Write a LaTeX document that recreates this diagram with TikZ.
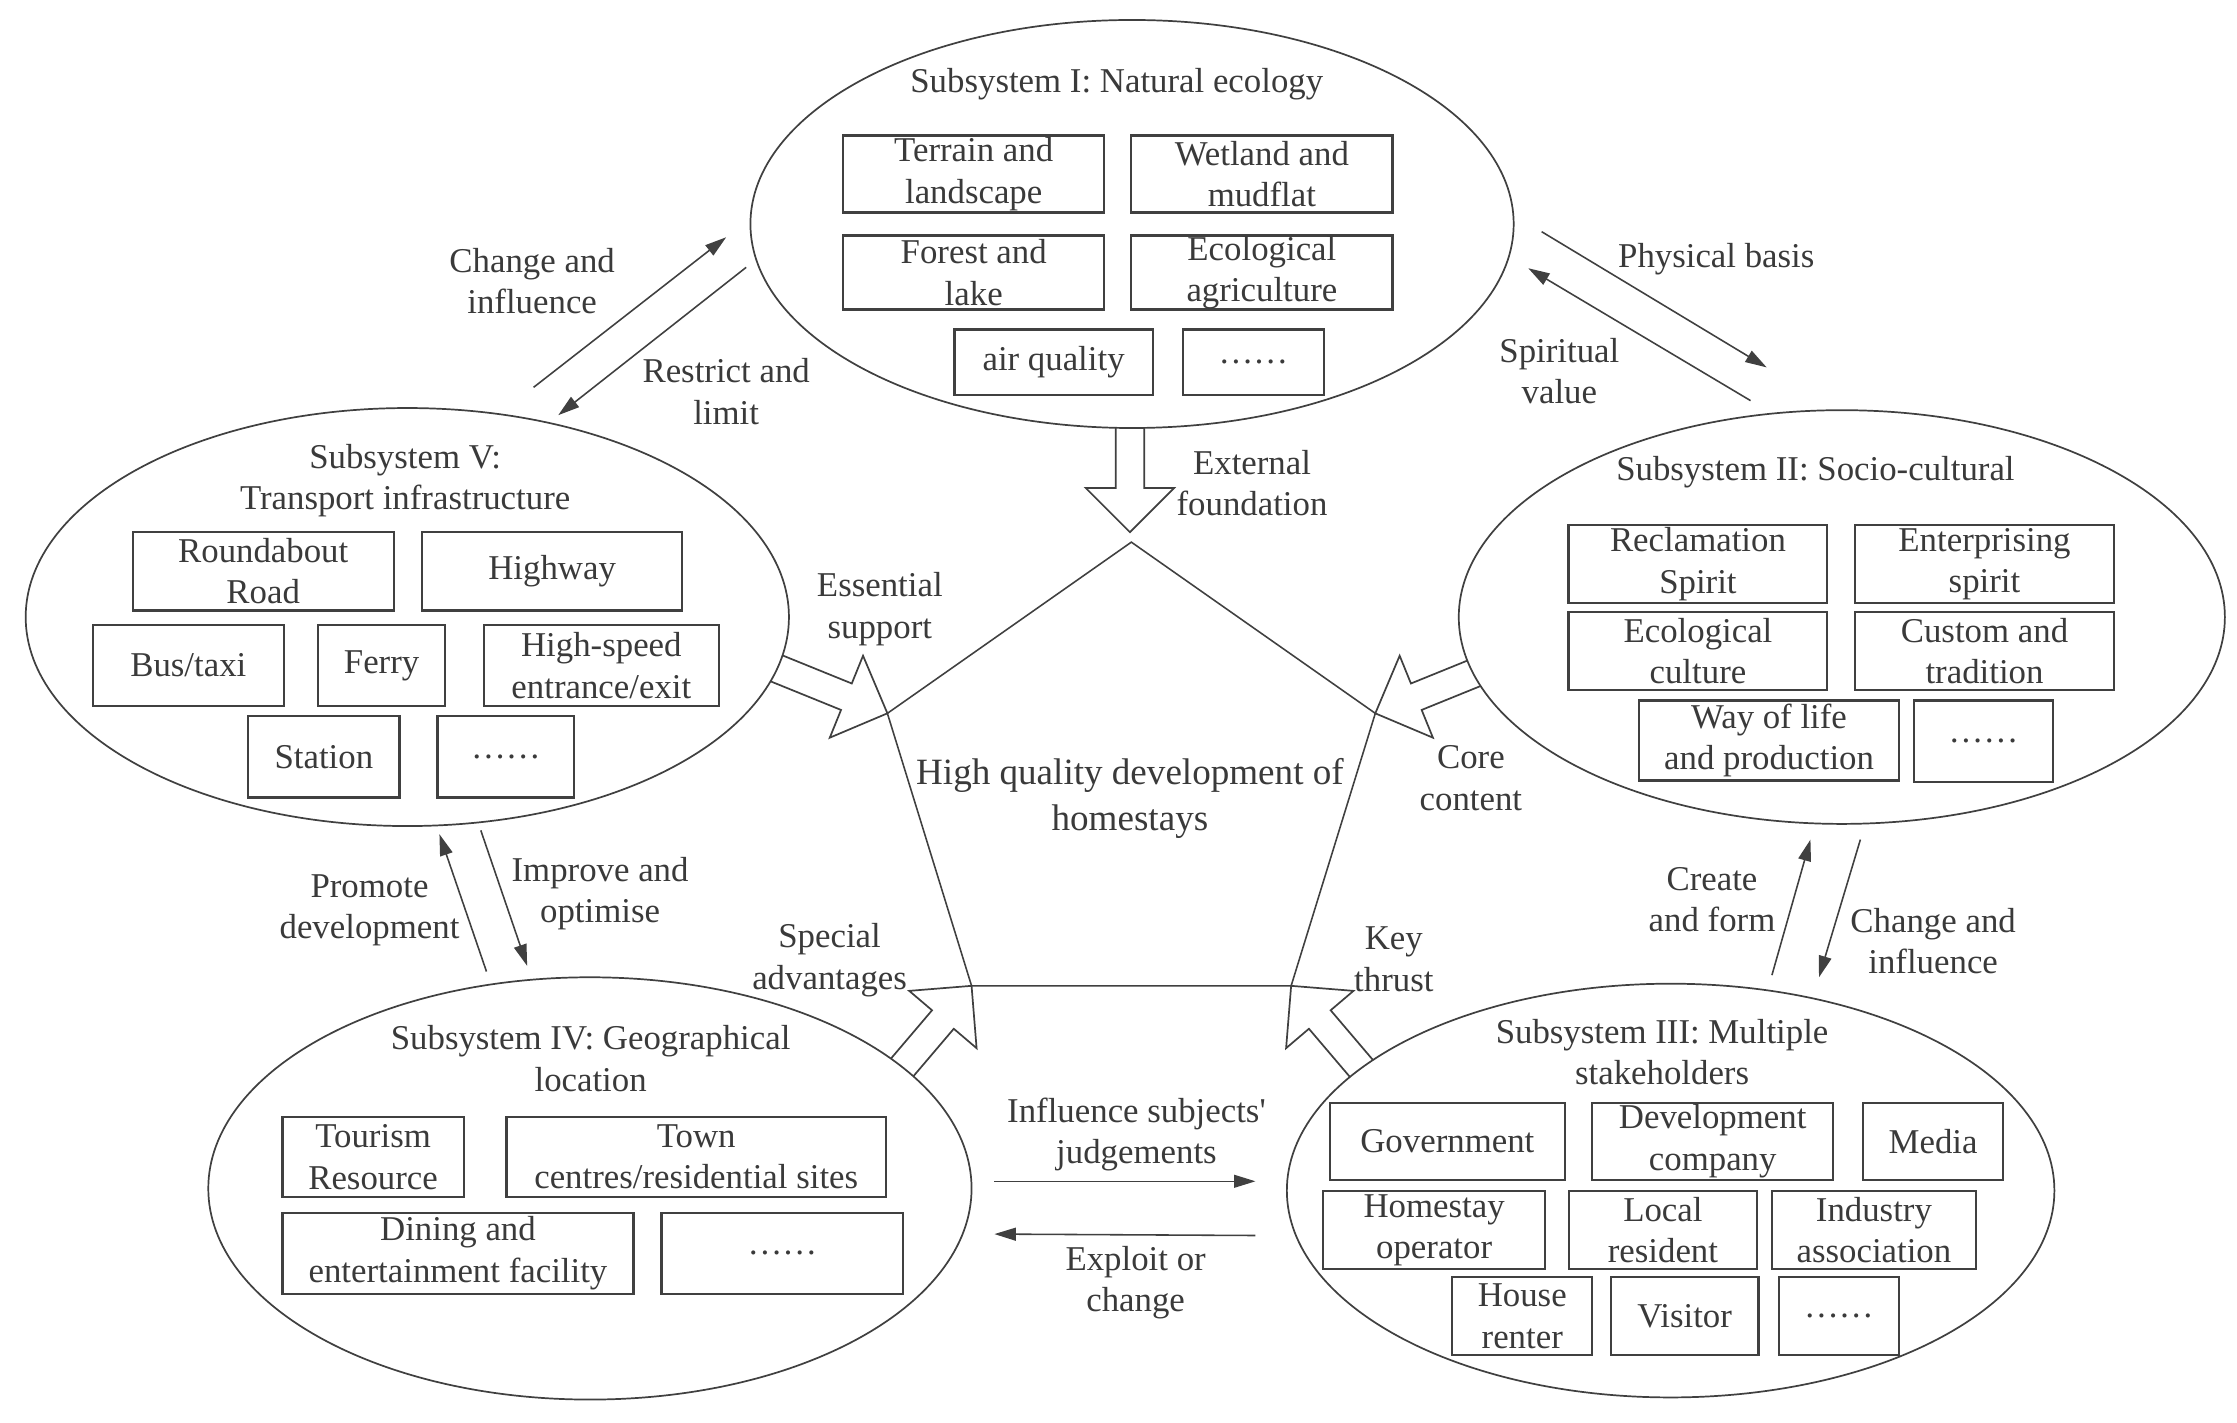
\documentclass[tikz,border=0pt]{standalone}
\usepackage{fontspec}
\setmainfont{Liberation Serif}
\usetikzlibrary{shapes.geometric,arrows.meta,calc}
\definecolor{ln}{HTML}{404040}
\definecolor{tx}{HTML}{3A3A3A}
\newcommand{\itembox}[6]{\node[bx,minimum width={(#4-#2)*0.5pt},minimum height={(#5-#3)*0.5pt}] (#1) at ({(#2+#4)/2},{(#3+#5)/2}) {#6};}
\newcommand{\blockarrow}[3]{%
  \coordinate (#3h) at ($(#2)!15.5pt!(#1)$);
  \draw[blk] ($(#1)!5pt!90:(#2)$) -- ($(#3h)!5pt!90:(#2)$) -- ($(#3h)!15.5pt!90:(#2)$) -- (#2) -- ($(#3h)!15.5pt!-90:(#2)$) -- ($(#3h)!5pt!-90:(#2)$) -- ($(#1)!5pt!-90:(#2)$);}
\begin{document}
\begin{tikzpicture}[x=0.5pt,y=-0.5pt,
  bx/.style={draw=ln,line width=0.8pt,inner sep=0pt,align=center,text=tx,font=\fontsize{12.2}{14.5}\selectfont},
  lbl/.style={inner sep=0pt,align=center,text=tx,font=\fontsize{12.2}{14.5}\selectfont},
  ell/.style={ellipse,draw=ln,line width=0.6pt,fill=white,inner sep=0pt},
  blk/.style={draw=ln,line width=0.6pt,line join=miter},
  tarr/.style={draw=ln,line width=0.55pt,-{Triangle[length=7.5pt,width=4.5pt]}},
  pent/.style={draw=ln,line width=0.55pt,line join=miter}]
\fill[white] (0,0) rectangle (1568,997);
\useasboundingbox (0,0) rectangle (1568,997);

% pentagon vertices
\coordinate (pT) at (793,380);
\coordinate (pL) at (622,500);
\coordinate (pR) at (964,500);
\coordinate (pBL) at (681,691);
\coordinate (pBR) at (905,691);

% block arrows bases (inside ellipses, hidden by fill)
\coordinate (bTop) at (792,288);
\coordinate (tTop) at (792,373);
\coordinate (bEss) at (541.9,467.5);
\coordinate (bCore) at (1044.1,467.5);
\coordinate (bSpec) at (625.2,756.6);
\coordinate (bKey) at (960.8,756.6);

\blockarrow{bTop}{tTop}{ha}
\blockarrow{bEss}{pL}{hb}
\blockarrow{bCore}{pR}{hc}
\blockarrow{bSpec}{pBL}{hd}
\blockarrow{bKey}{pBR}{he}

% ellipses
\node[ell,minimum width=267.5pt,minimum height=143pt] (e1) at (793.5,157) {};
\node[ell,minimum width=267.5pt,minimum height=146.5pt] (e5) at (285.5,432.5) {};
\node[ell,minimum width=268.5pt,minimum height=145pt] (e2) at (1291,432.5) {};
\node[ell,minimum width=267.5pt,minimum height=148pt] (e4) at (413.5,833) {};
\node[ell,minimum width=269pt,minimum height=145pt] (e3) at (1171,834.5) {};

% pentagon
\draw[pent] (pT) -- (pR) -- (pBR) -- (pBL) -- (pL) -- cycle;

% titles
\node[lbl] (t1) at (782.8,58.8) {Subsystem I: Natural ecology};
\node[lbl] (t5) at (284,337) {Subsystem V:\\Transport infrastructure};
\node[lbl] (t2) at (1272.5,331) {Subsystem II: Socio-cultural};
\node[lbl] (t4) at (414,742) {Subsystem IV: Geographical\\location};
\node[lbl] (t3) at (1165,737.5) {Subsystem III: Multiple\\stakeholders};

% subsystem I
\itembox{i1}{591}{95}{774}{149}{Terrain and\\landscape}
\itembox{i2}{793}{95}{976}{149}{Wetland and\\mudflat}
\itembox{i3}{591}{165}{774}{217}{Forest and\\lake}
\itembox{i4}{793}{165}{976}{217}{Ecological\\agriculture}
\itembox{i5}{669}{231}{808}{277}{air quality}
\itembox{i6}{829}{231}{928}{277}{……}

% subsystem V
\itembox{v1}{93}{373}{276}{428}{Roundabout\\Road}
\itembox{v2}{296}{373}{478}{428}{Highway}
\itembox{v3}{65}{438}{199}{495}{Bus/taxi}
\itembox{v4}{223}{438}{312}{495}{Ferry}
\itembox{v5}{339}{438}{504}{495}{High-speed\\entrance/exit}
\itembox{v6}{174}{502}{280}{559}{Station}
\itembox{v7}{306.6}{502}{402.5}{559}{……}

% subsystem II
\itembox{s1}{1099.5}{368}{1280.8}{422.6}{Reclamation\\Spirit}
\itembox{s2}{1300}{368}{1482}{422.6}{Enterprising\\spirit}
\itembox{s3}{1099.5}{429}{1280.8}{483.6}{Ecological\\culture}
\itembox{s4}{1300}{429}{1482}{483.6}{Custom and\\tradition}
\itembox{s5}{1149}{491}{1331}{547}{Way of life\\and production}
\itembox{s6}{1341.6}{491}{1439}{548}{……}

% subsystem IV
\itembox{g1}{198}{783}{325}{839}{Tourism\\Resource}
\itembox{g2}{355}{783}{621}{839}{Town\\centres/residential sites}
\itembox{g3}{198}{850}{444}{907}{Dining and\\entertainment facility}
\itembox{g4}{463.7}{850}{633}{907}{……}

% subsystem III
\itembox{m1}{932}{773}{1097}{827}{Government}
\itembox{m2}{1116}{773}{1285}{827}{Development\\company}
\itembox{m3}{1306}{773}{1404}{827}{Media}
\itembox{m4}{927.5}{835}{1083}{889.6}{Homestay\\operator}
\itembox{m5}{1099.6}{835}{1231.6}{889.6}{Local\\resident}
\itembox{m6}{1242}{835}{1385}{889.6}{Industry\\association}
\itembox{m7}{1018}{895}{1116}{950}{House\\renter}
\itembox{m8}{1129}{895}{1232.6}{950}{Visitor}
\itembox{m9}{1247}{895}{1331}{950}{……}

% centre text
\node[inner sep=0pt,align=center,text=tx,font=\fontsize{13}{16}\selectfont] (ctr) at (792,559.5) {High quality development of\\homestays};

% labels
\node[lbl] (lchg1) at (373,197) {Change and\\influence};
\node[lbl] (lrst) at (509,274.5) {Restrict and\\limit};
\node[lbl] (lphys) at (1203,182) {Physical basis};
\node[lbl] (lspir) at (1093,260) {Spiritual\\value};
\node[lbl] (lext) at (877.6,338.5) {External\\foundation};
\node[lbl] (less) at (616.7,427) {Essential\\support};
\node[lbl] (lcore) at (1031,545.5) {Core\\content};
\node[lbl] (lspec) at (581.5,673) {Special\\advantages};
\node[lbl] (lkey) at (977,672.5) {Key\\thrust};
\node[lbl] (lprom) at (259,638) {Promote\\development};
\node[lbl] (limpr) at (420.6,626.5) {Improve and\\optimise};
\node[lbl] (lcrt) at (1200,630.5) {Create\\and form};
\node[lbl] (lchg2) at (1355,659.5) {Change and\\influence};
\node[lbl] (linfl) at (796.6,795) {Influence subjects\textquotesingle\\judgements};
\node[lbl] (lexpl) at (796,899) {Exploit or\\change};

% thin arrows
\coordinate (a1s) at (374,271.5);   \coordinate (a1e) at (509,166.3);
\coordinate (a2s) at (523,187.4);   \coordinate (a2e) at (391.3,291);
\coordinate (a3s) at (1080.6,162.4); \coordinate (a3e) at (1238.3,257.5);
\coordinate (a4s) at (1227,280.8);  \coordinate (a4e) at (1071.2,188);
\coordinate (a5s) at (341,681);     \coordinate (a5e) at (308,584.7);
\coordinate (a6s) at (337,582);     \coordinate (a6e) at (369.5,677);
\coordinate (a7s) at (1242,683.5);  \coordinate (a7e) at (1269,588.5);
\coordinate (a8s) at (1304,588.5);  \coordinate (a8e) at (1275,685);
\coordinate (a9s) at (697,828);     \coordinate (a9e) at (880,828);
\coordinate (a10s) at (880,866);    \coordinate (a10e) at (697,865);
\draw[tarr] (a1s) -- (a1e);
\draw[tarr] (a2s) -- (a2e);
\draw[tarr] (a3s) -- (a3e);
\draw[tarr] (a4s) -- (a4e);
\draw[tarr] (a5s) -- (a5e);
\draw[tarr] (a6s) -- (a6e);
\draw[tarr] (a7s) -- (a7e);
\draw[tarr] (a8s) -- (a8e);
\draw[tarr] (a9s) -- (a9e);
\draw[tarr] (a10s) -- (a10e);
\end{tikzpicture}
\end{document}
